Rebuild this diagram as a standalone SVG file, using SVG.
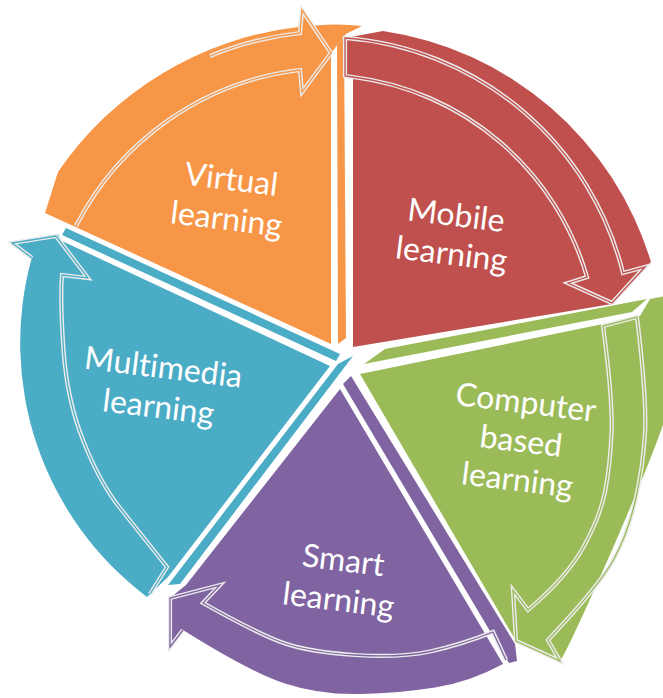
<svg xmlns="http://www.w3.org/2000/svg" xmlns:xlink="http://www.w3.org/1999/xlink" width="663" height="698" viewBox="0 0 663 698">
<style>
.lbl{font-family:Lato,"Open Sans","Liberation Sans",sans-serif;font-size:32px;fill:#ffffff;text-anchor:middle;font-variant-ligatures:none}
.o{fill:#F79646}.r{fill:#C0504D}.g{fill:#9BBB59}.p{fill:#8064A2}.b{fill:#4BACC6}
.dl{fill:none;stroke:#ebebeb;stroke-width:4.2;stroke-linejoin:miter}
.io{fill:none;stroke:#F79646;stroke-width:1.3}
.ir{fill:none;stroke:#C0504D;stroke-width:1.3}
.ig{fill:none;stroke:#9BBB59;stroke-width:1.3}
.ip{fill:none;stroke:#8064A2;stroke-width:1.3}
.ib{fill:none;stroke:#4BACC6;stroke-width:1.3}
</style>
<defs>
<path id="aO" d="M76,226 A290,290 0 0 1 300,70 L302,92 L331,53 L302,10 L300,33 A330,330 0 0 0 210,56"/>
<path id="aR" d="M353,77 A280,280 0 0 1 587,277 L568,283 L612,303 L645,267 L623,273 A310,310 0 0 0 345,38 L345,76 Z"/>
<path id="aG" d="M603,326 Q613,400 611.5,433.5 Q610,467 605,492 Q600,517 583.5,547 Q567,577 528,610 L513,590 L516,641 L560,661 L548,640 Q600,585 614,559 Q628,533 635.5,500 Q643,467 645,433.5 Q647,400 637,317 Z"/>
<path id="aP" d="M506,660 L493,632 Q460,645 430,651.5 Q400,658 355,655 Q310,652 285,643.5 Q260,635 203,603 L220,585 L170,598 L170,647 L183,630"/>
<path id="aB" d="M150,594 L167,567 Q140,533 120,508 Q100,483 83.5,441.5 Q67,400 63.5,350 Q60,300 62,275 L88,278 L56,236 L12,243 L32,258"/>
</defs>
<rect width="663" height="698" fill="#ffffff"/>
<g id="virtual">
<path class="o" d="M296,28 Q330,22 362,26 L346,34 L331,53 Z"/>
<path class="o" d="M331,344 L45,213 L58,172 A338,338 0 0 1 298,27 L302,10 L331,53 Z"/>
<path class="o" d="M337,45 L344,37 L346,338 L338,344 Z"/>
<text class="lbl" transform="rotate(7 228 207)"><tspan x="228" y="190">Virtual</tspan><tspan x="228" y="230">learning</tspan></text>
</g>
<g id="mobile">
<path class="r" d="M353,347 L353,76 L345,76 L345,38 L383,31 A330,330 0 0 1 651,262 L612,304 Z"/>
<text class="lbl" transform="rotate(7 453 242)"><tspan x="453" y="226">Mobile</tspan><tspan x="453" y="265">learning</tspan></text>
</g>
<g id="computer">
<path class="g" d="M364,364 L385,349 L647,299 L632,312 Z"/>
<path class="g" d="M360,374 L603,324 L640,316 L650,299 L670,295 L670,400 L668,400 C681.5,398.5 564.5,661 560,661 L516,641 Z"/>
<text class="lbl" transform="rotate(7 520 450)"><tspan x="520" y="413">Computer</tspan><tspan x="520" y="452">based</tspan><tspan x="521" y="491">learning</tspan></text>
</g>
<g id="smart">
<path class="p" d="M343,384 L351,376 L515,644 L517,661 L509,663 Z"/>
<path class="p" d="M340,389 L503,664 Q470,682 435,687.5 Q400,693 360,694 Q320,695 285,683.5 Q250,672 183,630 L170,647 L170,598 L186,585 Z"/>
<text class="lbl" transform="rotate(7 340 588)"><tspan x="340" y="571">Smart</tspan><tspan x="340" y="611">learning</tspan></text>
</g>
<g id="multimedia">
<path class="b" d="M66,228 L340,354 L336,361 L62,235 Z"/>
<path class="b" d="M338,364 L353,356 L180,584 L168,585 Z"/>
<path class="b" d="M330,366 L62,241 L58,234 L12,242 L32,257 A318,318 0 0 0 147,597 L168,577 Z"/>
<text class="lbl" transform="rotate(7 160 395)"><tspan x="160" y="378">Multimedia</tspan><tspan x="160" y="418">learning</tspan></text>
</g>
<g id="connectors">
<use xlink:href="#aO" class="dl"/><use xlink:href="#aO" class="io"/>
<use xlink:href="#aR" class="dl"/><use xlink:href="#aR" class="ir"/>
<use xlink:href="#aG" class="dl"/><use xlink:href="#aG" class="ig"/>
<use xlink:href="#aP" class="dl"/><use xlink:href="#aP" class="ip"/>
<use xlink:href="#aB" class="dl"/><use xlink:href="#aB" class="ib"/>
</g>
</svg>
